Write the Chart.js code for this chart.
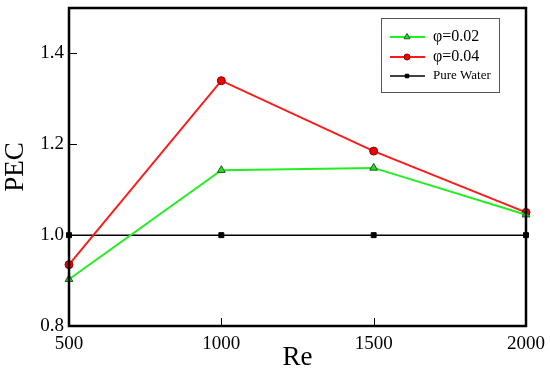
<!DOCTYPE html>
<html>
<head>
<meta charset="utf-8">
<script src="https://cdn.jsdelivr.net/npm/chart.js@4"></script>
<style>
  html, body { margin: 0; padding: 0; background: #fff; }
  #wrap { width: 550px; height: 380px; }
</style>
</head>
<body>
<div id="wrap"><canvas id="c" width="550" height="380"></canvas></div>
<script>
var reValues = [500, 1000, 1500, 2000];
var phi002 = [0.903, 1.143, 1.148, 1.045];
var phi004 = [0.935, 1.340, 1.185, 1.050];
var pureWater = [1.0, 1.0, 1.0, 1.0];
var yTicks = [0.8, 1.0, 1.2, 1.4];
var xTicks = [500, 1000, 1500, 2000];
var seriesNames = ['φ=0.02', 'φ=0.04', 'Pure Water'];

function pts(ys) {
    return reValues.map(function (x, i) { return { x: x, y: ys[i] }; });
}

// frame, inward ticks and the boxed legend
var framePlugin = {
    id: 'frame',
    afterDatasetsDraw: function (chart) {
        var ctx = chart.ctx, a = chart.chartArea;
        var xs = chart.scales.x, ys = chart.scales.y;
        ctx.save();
        ctx.strokeStyle = '#000';
        ctx.lineWidth = 1;
        ctx.beginPath();
        yTicks.forEach(function (v) {
            var y = Math.round(ys.getPixelForValue(v)) + 0.5;
            ctx.moveTo(a.left, y); ctx.lineTo(a.left + 8, y);
        });
        xTicks.forEach(function (v) {
            var x = Math.round(xs.getPixelForValue(v)) + 0.5;
            ctx.moveTo(x, a.bottom); ctx.lineTo(x, a.bottom - 8);
        });
        ctx.stroke();
        ctx.lineWidth = 2.5;
        ctx.strokeRect(a.left, a.top, a.right - a.left, a.bottom - a.top);

        // legend
        var lx = 381, ly = 18, lw = 118, lh = 74;
        ctx.fillStyle = '#fff';
        ctx.fillRect(lx, ly, lw, lh);
        ctx.lineWidth = 1;
        ctx.strokeStyle = '#555';
        ctx.strokeRect(lx + 0.5, ly + 0.5, lw, lh);
        var rows = [37, 57, 76];
        chart.data.datasets.forEach(function (ds, i) {
            var y = rows[i];
            ctx.strokeStyle = ds.borderColor;
            ctx.lineWidth = ds.borderWidth;
            ctx.beginPath();
            ctx.moveTo(390, y); ctx.lineTo(425, y);
            ctx.stroke();
            ctx.fillStyle = ds.pointBackgroundColor;
            ctx.strokeStyle = ds.pointBorderColor;
            ctx.lineWidth = 1;
            Chart.helpers.drawPoint(ctx, {
                pointStyle: ds.pointStyle, radius: ds.pointRadius - 1,
                borderWidth: 1
            }, 407, y);
            ctx.fillStyle = '#000';
            ctx.textBaseline = 'middle';
            ctx.textAlign = 'left';
            ctx.font = (i < 2 ? '16px' : '13px') + ' "Liberation Serif", serif';
            ctx.fillText(seriesNames[i], 433, y);
        });
        ctx.restore();
    }
};

new Chart(document.getElementById('c'), {
    type: 'line',
    data: {
        datasets: [
            {
                label: seriesNames[0], data: pts(phi002), clip: false,
                borderColor: '#22ee22', borderWidth: 2,
                pointStyle: 'triangle', pointRadius: 4.5,
                pointBackgroundColor: '#22dd22', pointBorderColor: '#1b5e1b', pointBorderWidth: 1
            },
            {
                label: seriesNames[1], data: pts(phi004), clip: false,
                borderColor: '#ff1a1a', borderWidth: 2,
                pointStyle: 'circle', pointRadius: 4,
                pointBackgroundColor: '#ee0000', pointBorderColor: '#8b0000', pointBorderWidth: 1
            },
            {
                label: seriesNames[2], data: pts(pureWater), clip: false,
                borderColor: '#000', borderWidth: 1.5,
                pointStyle: 'rect', pointRadius: 3.5,
                pointBackgroundColor: '#000', pointBorderColor: '#000', pointBorderWidth: 1
            }
        ]
    },
    options: {
        responsive: false,
        animation: false,
        layout: { padding: { top: 8, right: 24, left: 0, bottom: 0 } },
        plugins: { legend: { display: false }, tooltip: { enabled: false } },
        elements: { line: { tension: 0 } },
        scales: {
            x: {
                type: 'linear', min: 500, max: 2000,
                afterBuildTicks: function (s) { s.ticks = xTicks.map(function (v) { return { value: v }; }); },
                afterFit: function (s) { s.height = 54; s.paddingLeft = 0; s.paddingRight = 0; },
                grid: { display: false, drawTicks: false },
                border: { display: false },
                ticks: {
                    padding: 7, color: '#000',
                    font: { family: '"Liberation Serif", serif', size: 19 },
                    callback: function (v) { return String(v); }
                },
                title: {
                    display: true, text: 'Re', color: '#000', padding: { top: 0, bottom: 6 },
                    font: { family: '"Liberation Serif", serif', size: 27 }
                }
            },
            y: {
                min: 0.8, max: 1.5,
                afterBuildTicks: function (s) { s.ticks = yTicks.map(function (v) { return { value: v }; }); },
                afterFit: function (s) { s.width = 69; s.paddingTop = 0; s.paddingBottom = 0; },
                grid: { display: false, drawTicks: false },
                border: { display: false },
                ticks: {
                    padding: 5, color: '#000',
                    font: { family: '"Liberation Serif", serif', size: 19 },
                    callback: function (v) { return v.toFixed(1); }
                },
                title: {
                    display: true, text: 'PEC', color: '#000', padding: { top: 0, bottom: 0 },
                    font: { family: '"Liberation Serif", serif', size: 27 }
                }
            }
        }
    },
    plugins: [framePlugin]
});
</script>
</body>
</html>
